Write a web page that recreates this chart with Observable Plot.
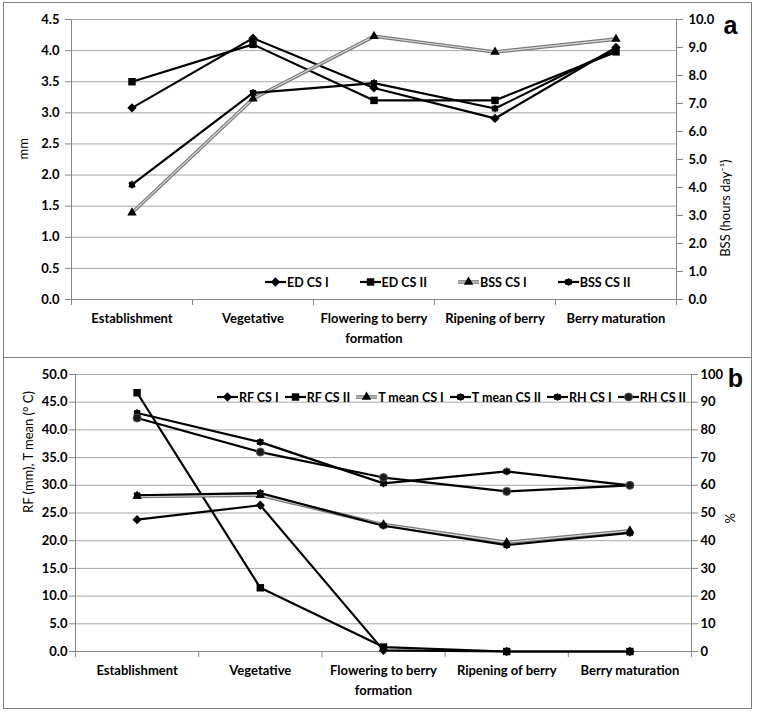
<!DOCTYPE html>
<html><head><meta charset="utf-8">
<script src="https://cdn.jsdelivr.net/npm/d3@7"></script>
<script src="https://cdn.jsdelivr.net/npm/@observablehq/plot@0.6"></script>
<style>
body{margin:0;background:#fff;font-family:Lato,"Liberation Sans",sans-serif;}
.panel{position:absolute;left:3px;width:747px;border:1px solid #7f7f7f;background:#fff;}
#pa{top:2px;height:355px;}
#pb{top:357px;height:350px;}
.panel svg{display:block;}
.legend{position:absolute;display:flex;align-items:center;font:bold 12.5px Lato,sans-serif;white-space:nowrap;height:16px;color:#000;}
.item{display:flex;align-items:center;}
.item svg{margin-right:1px;}
</style></head><body>
<div id="pa" class="panel"></div>
<div id="pb" class="panel"></div>
<script>
// ---------- data ----------
const stages = ["Establishment", "Vegetative", "Flowering to berry\nformation", "Ripening of berry", "Berry maturation"];
// panel a
const edCS1  = [3.08, 4.20, 3.40, 2.91, 4.05];   // mm (left)
const edCS2  = [3.50, 4.10, 3.20, 3.20, 3.98];   // mm (left)
const bssCS1 = [3.10, 7.17, 9.40, 8.84, 9.30];   // hours day-1 (right)
const bssCS2 = [4.10, 7.38, 7.73, 6.82, 8.95];   // hours day-1 (right)
// panel b
const rfCS1    = [23.8, 26.4, 0.2, 0.0, 0.0];    // mm (left)
const rfCS2    = [46.7, 11.5, 0.8, 0.0, 0.0];    // mm (left)
const tmeanCS1 = [28.0, 28.2, 22.9, 19.7, 21.8]; // °C (left)
const tmeanCS2 = [28.2, 28.6, 22.7, 19.2, 21.4]; // °C (left)
const rhCS1    = [86.1, 75.6, 60.7, 65.0, 60.0]; // % (right)
const rhCS2    = [84.3, 72.0, 62.8, 57.8, 60.0]; // % (right)
// ticks
const aLeftTicks  = [0, 0.5, 1, 1.5, 2, 2.5, 3, 3.5, 4, 4.5];
const aRightTicks = [0, 1, 2, 3, 4, 5, 6, 7, 8, 9, 10];
const bLeftTicks  = [0, 5, 10, 15, 20, 25, 30, 35, 40, 45, 50];
const bRightTicks = [0, 10, 20, 30, 40, 50, 60, 70, 80, 90, 100];

// ---------- styles ----------
const lineStyles = {
  black: [{stroke: "black", strokeWidth: 2.2}],
  gray: [{stroke: "#7a7a7a", strokeWidth: 3.6}, {stroke: "#dadada", strokeWidth: 1.1}]
};
const markerStyles = {
  diamond: [{symbol: "diamond2", r: 4.2, fill: "black", stroke: "none"}],
  square: [{symbol: "square", r: 4.2, fill: "black", stroke: "none"}],
  triangle: [{symbol: "triangle", r: 3.5, fill: "black", stroke: "none"}],
  circle: [{symbol: "circle", r: 4, fill: "#1a1a1a", stroke: "#555", strokeWidth: 1}],
  starsq: [{symbol: "square", r: 3.3, fill: "black", stroke: "none"},
           {symbol: "asterisk", r: 3.6, fill: "none", stroke: "black", strokeWidth: 1.5}]
};
const d3sym = {diamond2: d3.symbolDiamond2, square: d3.symbolSquare, triangle: d3.symbolTriangle,
  circle: d3.symbolCircle, asterisk: d3.symbolAsterisk};

const seriesA = [
  {name: "ED CS I", values: edCS1, right: false, line: "black", marker: "diamond"},
  {name: "ED CS II", values: edCS2, right: false, line: "black", marker: "square"},
  {name: "BSS CS I", values: bssCS1, right: true, line: "gray", marker: "triangle"},
  {name: "BSS CS II", values: bssCS2, right: true, line: "black", marker: "starsq"}
];
const seriesB = [
  {name: "RF CS I", values: rfCS1, right: false, line: "black", marker: "diamond"},
  {name: "RF CS II", values: rfCS2, right: false, line: "black", marker: "square"},
  {name: "T mean CS I", values: tmeanCS1, right: false, line: "gray", marker: "triangle"},
  {name: "T mean CS II", values: tmeanCS2, right: false, line: "black", marker: "starsq"},
  {name: "RH CS I", values: rhCS1, right: true, line: "black", marker: "starsq"},
  {name: "RH CS II", values: rhCS2, right: true, line: "black", marker: "circle"}
];

const AXIS = "#868686", GRID = "#a8a8a8";

function makePanel(cfg) {
  const k = cfg.leftMax / cfg.rightMax;
  const conv = (s) => (d) => s.right ? d * k : d;
  const xi = (d, i) => i;
  const marks = [
    Plot.gridY(cfg.leftTicks, {stroke: GRID, strokeOpacity: 1}),
    Plot.ruleY([0], {stroke: AXIS}),
    Plot.ruleX([-0.5, 4.5], {stroke: AXIS}),
    Plot.axisX([-0.5, 0.5, 1.5, 2.5, 3.5, 4.5], {anchor: "bottom", tickSize: 6, tickFormat: () => "", stroke: AXIS, label: null}),
    Plot.text(stages, {x: xi, text: d => d, frameAnchor: "bottom", dy: 10, lineAnchor: "top",
      fontSize: 13, fontWeight: "bold", lineHeight: 1.5, fill: "black"}),
    Plot.axisY(cfg.leftTicks, {anchor: "left", tickSize: 6, tickPadding: cfg.lPad, stroke: AXIS, fill: "black",
      fontSize: 13, fontWeight: "bold", tickFormat: d => d.toFixed(1), label: null}),
    Plot.axisY(cfg.rightTicks.map(t => t * k), {anchor: "right", tickSize: 6, tickPadding: cfg.rPad, stroke: AXIS, fill: "black",
      fontSize: 13, fontWeight: "bold", tickFormat: d => cfg.rightFmt(Math.round(d / k * 100) / 100), label: null}),
    Plot.text([cfg.leftLabel], {frameAnchor: "left", dx: cfg.lLabelDx, rotate: -90, fontSize: 13, fill: "black"}),
    Plot.text([cfg.rightLabel], {frameAnchor: "right", dx: cfg.rLabelDx, rotate: -90, fontSize: 13, fill: "black"}),
    Plot.text([cfg.tag], {frameAnchor: "top-right", dx: cfg.tagDx, dy: cfg.tagDy, textAnchor: "middle", lineAnchor: "middle",
      fontSize: 25, fontWeight: "bold", fontFamily: "Liberation Sans, Arial, sans-serif", fill: "black"})
  ];
  for (const s of cfg.series) {
    for (const st of lineStyles[s.line]) marks.push(Plot.line(s.values, {x: xi, y: conv(s), ...st}));
  }
  for (const s of cfg.series) {
    for (const m of markerStyles[s.marker]) marks.push(Plot.dot(s.values, {x: xi, y: conv(s), ...m}));
  }
  const chart = Plot.plot({
    width: 747, height: cfg.height,
    marginLeft: cfg.mL, marginRight: cfg.mR, marginTop: cfg.mT, marginBottom: cfg.mB,
    style: {fontFamily: "Lato, sans-serif", fontSize: "13px", background: "white", overflow: "visible"},
    x: {type: "linear", domain: [-0.5, 4.5], axis: null},
    y: {domain: [0, cfg.leftMax], axis: null},
    marks
  });
  const el = document.getElementById(cfg.el);
  el.appendChild(chart);
  // legend
  const lg = document.createElement("div");
  lg.className = "legend";
  lg.style.left = cfg.legendX + "px";
  lg.style.top = (cfg.legendY - 8) + "px";
  lg.style.gap = cfg.legendGap + "px";
  for (const s of cfg.series) {
    const item = document.createElement("div");
    item.className = "item";
    const svg = d3.create("svg").attr("width", 21).attr("height", 14);
    for (const st of lineStyles[s.line]) {
      svg.append("line").attr("x1", 0).attr("x2", 21).attr("y1", 7).attr("y2", 7)
        .attr("stroke", st.stroke).attr("stroke-width", st.strokeWidth);
    }
    for (const m of markerStyles[s.marker]) {
      svg.append("path").attr("transform", "translate(10.5,7)")
        .attr("d", d3.symbol(d3sym[m.symbol], m.r * m.r * Math.PI)())
        .attr("fill", m.fill).attr("stroke", m.stroke || "none").attr("stroke-width", m.strokeWidth || 0);
    }
    item.appendChild(svg.node());
    const t = document.createElement("span");
    t.textContent = s.name;
    item.appendChild(t);
    lg.appendChild(item);
  }
  el.appendChild(lg);
}

makePanel({
  el: "pa", height: 355, mL: 67, mR: 75, mT: 16, mB: 59,
  leftMax: 4.5, rightMax: 10, leftTicks: aLeftTicks, rightTicks: aRightTicks,
  rightFmt: d => d.toFixed(1), lPad: 6, rPad: 6,
  leftLabel: "mm", rightLabel: "BSS (hours day⁻¹)", lLabelDx: -48, rLabelDx: 49,
  tag: "a", tagDx: 54, tagDy: 6,
  series: seriesA, legendX: 261, legendY: 279, legendGap: 31
});
makePanel({
  el: "pb", height: 350, mL: 71, mR: 60, mT: 16, mB: 57,
  leftMax: 50, rightMax: 100, leftTicks: bLeftTicks, rightTicks: bRightTicks,
  rightFmt: d => String(Math.round(d)), lPad: 2, rPad: 3,
  leftLabel: "RF (mm), T mean (° C)", rightLabel: "%", lLabelDx: -47, rLabelDx: 39,
  tag: "b", tagDx: 44, tagDy: 4,
  series: seriesB, legendX: 213, legendY: 39, legendGap: 6
});
</script>
</body></html>
